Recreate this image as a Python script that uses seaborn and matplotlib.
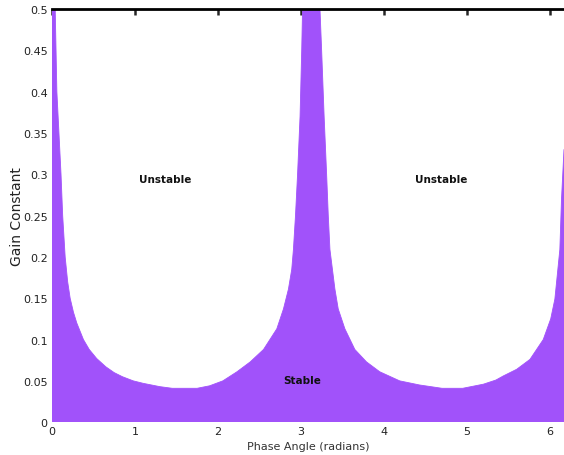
import seaborn as sns
import matplotlib.pyplot as plt
import pandas as pd

# values (radians, gain)
phase = [0.0, 0.02, 0.04, 0.05, 0.06, 0.085, 0.11, 0.13, 0.16, 0.19, 0.22, 0.26,
         0.3, 0.34, 0.38, 0.45, 0.54, 0.65, 0.75, 0.85, 0.98, 1.1, 1.3, 1.45,
         1.57, 1.75, 1.9, 2.06, 2.23, 2.39, 2.55, 2.71, 2.79, 2.85, 2.89, 2.91,
         2.935, 2.96, 2.99, 3.01, 3.02, 3.12, 3.23, 3.25, 3.28, 3.31, 3.33, 3.35,
         3.38, 3.41, 3.45, 3.53, 3.65, 3.79, 3.95, 4.19, 4.43, 4.7, 4.95, 5.2,
         5.35, 5.44, 5.6, 5.76, 5.92, 6.01, 6.06, 6.12, 6.14, 6.16, 6.17]
gain = [0.9, 0.7, 0.5, 0.45, 0.4, 0.35, 0.3, 0.25, 0.2, 0.17, 0.15, 0.133,
        0.12, 0.11, 0.1, 0.088, 0.077, 0.067, 0.06, 0.055, 0.05, 0.047, 0.043, 0.041,
        0.041, 0.041, 0.044, 0.05, 0.061, 0.073, 0.088, 0.113, 0.137, 0.161, 0.185, 0.209,
        0.25, 0.3, 0.37, 0.45, 0.5, 0.9, 0.5, 0.45, 0.37, 0.3, 0.25, 0.209,
        0.185, 0.161, 0.137, 0.113, 0.088, 0.073, 0.061, 0.05, 0.045, 0.041, 0.041, 0.046,
        0.051, 0.056, 0.064, 0.076, 0.1, 0.125, 0.149, 0.209, 0.27, 0.31, 0.33]

x_ticks = [0, 1, 2, 3, 4, 5, 6]
y_ticks = [0, 0.05, 0.1, 0.15, 0.2, 0.25, 0.3, 0.35, 0.4, 0.45, 0.5]
y_tick_labels = ["0", "0.05", "0.1", "0.15", "0.2", "0.25", "0.3", "0.35", "0.4", "0.45", "0.5"]

region_labels = ["Unstable", "Unstable", "Stable"]
region_x = [1.36, 4.69, 3.01]
region_y = [0.294, 0.294, 0.051]

fill_color = "#a152fa"

df = pd.DataFrame({"phase": phase, "gain": gain})

sns.set_style("white")
plt.rcParams["font.family"] = ["DejaVu Sans"]

fig = plt.figure(figsize=(5.64, 4.56), dpi=100)
ax = fig.add_axes([0.092, 0.072, 0.908, 0.906])

sns.lineplot(data=df, x="phase", y="gain", ax=ax, color=fill_color, lw=0.6)
ax.fill_between(df["phase"], df["gain"], 0, color=fill_color, lw=0)

for txt, tx, ty in zip(region_labels, region_x, region_y):
    ax.text(tx, ty, txt, ha="center", va="center", fontsize=7.5,
            fontweight="bold", color="#111111")

ax.set_xlim(0, 6.17)
ax.set_ylim(0, 0.5)
ax.set_xticks(x_ticks)
ax.set_xticklabels([str(t) for t in x_ticks])
ax.set_yticks(y_ticks)
ax.set_yticklabels(y_tick_labels)
ax.tick_params(axis="y", labelsize=8, colors="#222222", length=0, pad=3)
ax.tick_params(axis="x", labelsize=8, labelcolor="#222222", length=0, pad=3)

# small inward ticks hanging from the top border only
for tick in ax.xaxis.get_major_ticks():
    tick.tick1line.set_visible(False)
    tick.tick2line.set_visible(True)
    tick.tick2line.set_marker(3)  # TICKDOWN
    tick.tick2line.set_markersize(4)
    tick.tick2line.set_markeredgewidth(1.8)
    tick.tick2line.set_color("black")
    tick.tick2line.set_zorder(5)

for side in ["left", "bottom", "right"]:
    ax.spines[side].set_visible(False)
ax.spines["top"].set_linewidth(2)
ax.spines["top"].set_color("black")

ax.set_xlabel("Phase Angle (radians)", fontsize=8, color="#333333", labelpad=3)
ax.set_ylabel("Gain Constant", fontsize=10, color="#222222", labelpad=-1)

fig.savefig("out.png", dpi=100)
